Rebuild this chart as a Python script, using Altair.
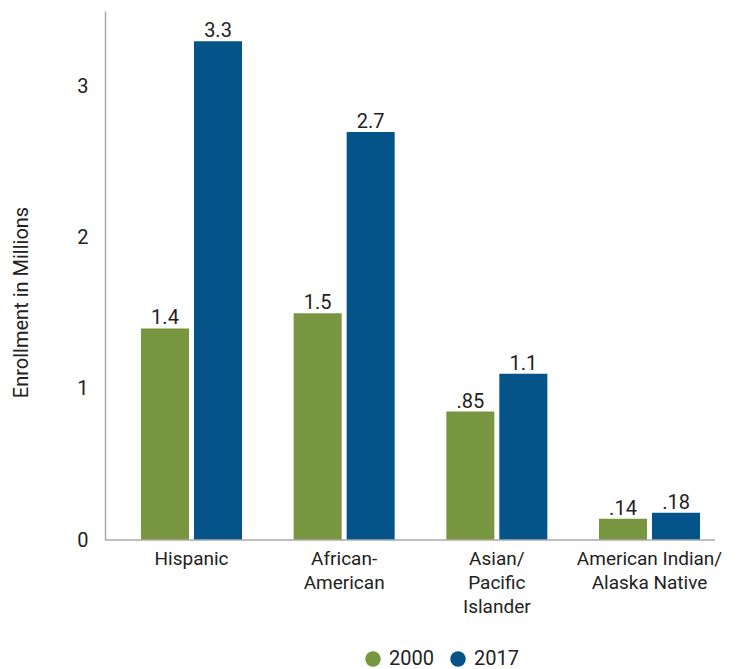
import altair as alt
import pandas as pd

# Enrollment (millions) by race/ethnicity, 2000 vs 2017
categories = [
    "Hispanic",
    "African-\nAmerican",
    "Asian/\nPacific\nIslander",
    "American Indian/\nAlaska Native",
]
years = ["2000", "2017"]
values_2000 = [1.4, 1.5, 0.85, 0.14]
values_2017 = [3.3, 2.7, 1.1, 0.18]
labels_2000 = ["1.4", "1.5", ".85", ".14"]
labels_2017 = ["3.3", "2.7", "1.1", ".18"]
colors = ["#77963F", "#04548A"]

rows = []
for cat, v0, v1, l0, l1 in zip(categories, values_2000, values_2017, labels_2000, labels_2017):
    rows.append({"category": cat, "year": years[0], "value": v0, "label": l0})
    rows.append({"category": cat, "year": years[1], "value": v1, "label": l1})
df = pd.DataFrame(rows)

FONT = "Roboto"
TEXT = "#222222"
AXIS_GRAY = "#AAAAAA"
FS = 20
W, H = 631, 529

x_enc = alt.X(
    "category:N",
    sort=categories,
    scale=alt.Scale(paddingInner=0, paddingOuter=0.0666),
    axis=alt.Axis(
        title=None,
        domain=False,
        ticks=False,
        labelAngle=0,
        labelPadding=9,
        labelFontSize=19,
        labelFont=FONT,
        labelColor=TEXT,
        labelLineHeight=24,
        labelExpr="split(datum.label, '\\n')",
    ),
)
xoff_enc = alt.XOffset(
    "year:N",
    sort=years,
    scale=alt.Scale(paddingInner=0.094, paddingOuter=0.487),
)
y_enc = alt.Y(
    "value:Q",
    scale=alt.Scale(domain=[0, 3.5], nice=False),
    axis=alt.Axis(
        title="Enrollment in Millions",
        values=[0, 1, 2, 3],
        grid=False,
        ticks=False,
        domain=True,
        domainColor=AXIS_GRAY,
        domainWidth=1.5,
        labelPadding=17,
        labelFontSize=FS,
        labelFont=FONT,
        labelColor=TEXT,
        titleFont=FONT,
        titleFontSize=FS,
        titleFontWeight="normal",
        titleColor=TEXT,
        titleAngle=270,
        titleAlign="center",
        titleBaseline="middle",
        titleX=-84,
        titleY=291,
    ),
)

base = alt.Chart(df).encode(x=x_enc, xOffset=xoff_enc, y=y_enc)

bars = base.mark_bar().encode(
    color=alt.Color(
        "year:N",
        sort=years,
        scale=alt.Scale(domain=years, range=colors),
        legend=alt.Legend(
            title=None,
            orient="none",
            direction="horizontal",
            legendX=258,
            legendY=638,
            symbolType="circle",
            symbolSize=240,
            symbolStrokeWidth=0,
            symbolOpacity=1,
            labelFontSize=FS,
            labelFont=FONT,
            labelColor=TEXT,
            labelOffset=6,
            columnPadding=14,
        ),
    )
)

value_text = base.mark_text(
    baseline="bottom", dy=0, fontSize=FS, font=FONT, color=TEXT
).encode(text="label:N")

baseline_rule = alt.Chart(pd.DataFrame({"y": [0]})).mark_rule(
    color=AXIS_GRAY, strokeWidth=1.5
).encode(x=alt.value(0), x2=alt.value(610), y=alt.value(H))

chart = (
    alt.layer(bars, value_text, baseline_rule)
    .properties(
        width=W,
        height=H,
        padding={"left": 105, "top": 11, "right": 12, "bottom": 129},
        autosize=alt.AutoSizeParams(type="none"),
        background="white",
    )
    .configure_view(stroke=None)
)

chart.save("out.html", embed_options={"renderer": "svg", "actions": False})
